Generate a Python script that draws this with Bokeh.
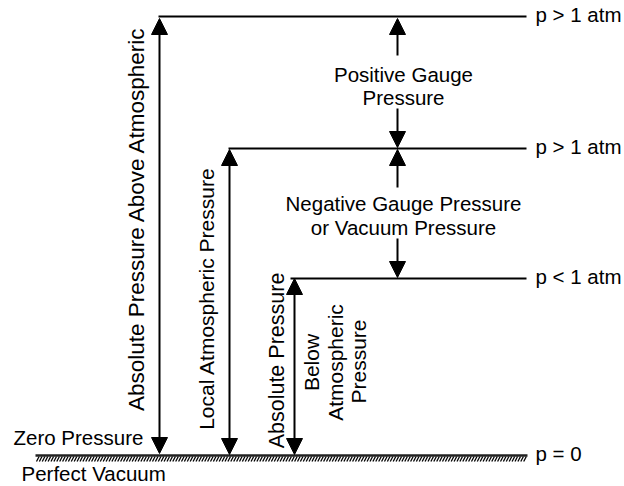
import numpy as np
from bokeh.plotting import figure, ColumnDataSource
from bokeh.models import Range1d, Arrow, NormalHead
from bokeh.core.properties import value
from bokeh.embed import file_html
from bokeh.resources import INLINE

FONT = "Liberation Sans"

# ---- data (x in px across the sheet, y = height above zero pressure) ----
level_labels = ["p > 1 atm", "p > 1 atm", "p < 1 atm", "p = 0"]
level_y = [439, 307, 177, 0]
level_x0 = [158, 228, 290, 35]
level_x1 = [526, 526, 526, 527]

# double-headed measuring arrows (from zero up to a level)
span_x = [159, 229, 294]
span_y0 = [2, 1, 1]
span_y1 = [437, 306, 177]
span_labels = ["Absolute Pressure Above Atmospheric", "Local Atmospheric Pressure", "Absolute Pressure"]
span_label_x = [136, 206, 276]
span_label_y = [237, 157, 95]
span_label_size = ["22.5px", "21px", "21.5px"]

# gauge arrows
gauge_x = [397, 397, 397, 397]
gauge_tail = [400, 347, 268, 217]
gauge_tip = [437, 308, 306, 178]

# horizontal captions
cap_text = ["Positive Gauge", "Pressure", "Negative Gauge Pressure", "or Vacuum Pressure"]
cap_x = [403, 403, 403, 403]
cap_y = [381, 358, 252, 228]

below_text = ["Below", "Atmospheric", "Pressure"]
below_x = [311, 335, 358]
below_y = [93, 93, 94]

p = figure(width=624, height=486, x_range=Range1d(0, 624), y_range=Range1d(-31, 455),
           output_backend="svg", toolbar_location=None, min_border=0,
           x_axis_type=None, y_axis_type=None)
p.grid.visible = False
p.outline_line_color = None
p.background_fill_color = "white"
p.border_fill_color = "white"

# level lines
p.segment(x0=level_x0[:3], y0=level_y[:3], x1=level_x1[:3], y1=level_y[:3],
          line_color="black", line_width=2)
# ground line + hatching (ticks spread along the ground line)
g_x0, g_x1, g_y = level_x0[3], level_x1[3], level_y[3]
hx = np.arange(g_x0 + 1, g_x1 - 3, 2.9)
p.segment(x0=hx, y0=g_y - 6, x1=hx + 2.6, y1=g_y - 1, line_color="black", line_width=1.3)
p.segment(x0=[g_x0], y0=[g_y], x1=[g_x1], y1=[g_y], line_color="#222222", line_width=2.5)

# level labels
p.text(x=[535] * 4, y=[v + 2 for v in level_y], text=level_labels,
       text_font=value(FONT), text_font_size="20.5px", text_align="left",
       text_baseline="middle", text_color="black")

# double-headed arrows
src_span = ColumnDataSource(dict(x=span_x, y0=span_y0, y1=span_y1))
p.add_layout(Arrow(start=NormalHead(size=16, fill_color="black", line_color="black", line_width=1),
                   end=NormalHead(size=16, fill_color="black", line_color="black", line_width=1),
                   x_start="x", y_start="y0", x_end="x", y_end="y1", source=src_span,
                   line_color="black", line_width=2))

# gauge arrows
src_g = ColumnDataSource(dict(x=gauge_x, y0=gauge_tail, y1=gauge_tip))
p.add_layout(Arrow(end=NormalHead(size=16, fill_color="black", line_color="black", line_width=1),
                   x_start="x", y_start="y0", x_end="x", y_end="y1", source=src_g,
                   line_color="black", line_width=2))

# rotated span labels
for t, x, y, s in zip(span_labels, span_label_x, span_label_y, span_label_size):
    p.text(x=[x], y=[y], text=[t], angle=np.pi / 2, text_font=value(FONT),
           text_font_size=s, text_align="center", text_baseline="middle", text_color="black")

p.text(x=below_x, y=below_y, text=below_text, angle=np.pi / 2, text_font=value(FONT),
       text_font_size="21px", text_align="center", text_baseline="middle", text_color="black")

# horizontal captions
p.text(x=cap_x, y=cap_y, text=cap_text, text_font=value(FONT), text_font_size="20.5px",
       text_align="center", text_baseline="middle", text_color="black")

p.text(x=[13], y=[18], text=["Zero Pressure"], text_font=value(FONT), text_font_size="20.5px",
       text_align="left", text_baseline="middle", text_color="black")
p.text(x=[21], y=[-18], text=["Perfect Vacuum"], text_font=value(FONT), text_font_size="20.5px",
       text_align="left", text_baseline="middle", text_color="black")

open("out.html", "w").write(file_html(p, INLINE))
